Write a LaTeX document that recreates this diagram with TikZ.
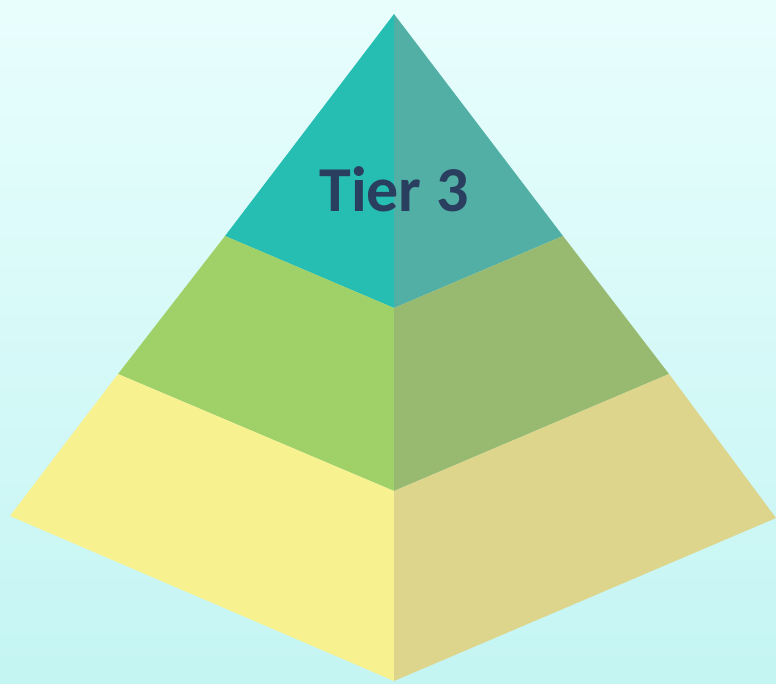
\documentclass[tikz,border=0pt]{standalone}
\usepackage{fontspec}
\setmainfont{Carlito}
\usepackage{xcolor}
\definecolor{bgtop}{HTML}{E8FEFD}
\definecolor{bgbot}{HTML}{C4F5F3}
\definecolor{topL}{HTML}{26BDB3}
\definecolor{topR}{HTML}{52AFA5}
\definecolor{midL}{HTML}{A0D068}
\definecolor{midR}{HTML}{98BA70}
\definecolor{botL}{HTML}{F8F190}
\definecolor{botR}{HTML}{DDD58C}
\definecolor{tiertext}{HTML}{2A3F5F}

\begin{document}
\begin{tikzpicture}[x=1pt, y=-1pt, face/.style={draw=none}]
  % Background
  \shade[top color=bgtop, bottom color=bgbot] (0,0) rectangle (776,683);
  \useasboundingbox (0,0) rectangle (776,683);

  % Key Points
  \coordinate (apex) at (394,14);
  \coordinate (aL) at (225,236);
  \coordinate (aM) at (394,308);
  \coordinate (aR) at (563,236);
  \coordinate (bL) at (118,374);
  \coordinate (bM) at (394,491);
  \coordinate (bR) at (669,374);
  \coordinate (cL) at (10,516);
  \coordinate (cM) at (394,681);
  \coordinate (cR) at (776,518);

  % Tier 3 (top)
  \fill[topL, face] (apex) -- (aL) -- (aM) -- cycle;
  \fill[topR, face] (apex) -- (aM) -- (aR) -- cycle;

  % Tier 2 (middle)
  \fill[midL, face] (aL) -- (bL) -- (bM) -- (aM) -- cycle;
  \fill[midR, face] (aM) -- (bM) -- (bR) -- (aR) -- cycle;

  % Tier 1 (bottom)
  \fill[botL, face] (bL) -- (cL) -- (cM) -- (bM) -- cycle;
  \fill[botR, face] (bM) -- (cM) -- (cR) -- (bR) -- cycle;

  % Label
  \node[text=tiertext, font=\fontsize{64}{68}\selectfont\bfseries] (tier3) at (394,189) {Tier 3};
\end{tikzpicture}
\end{document}
